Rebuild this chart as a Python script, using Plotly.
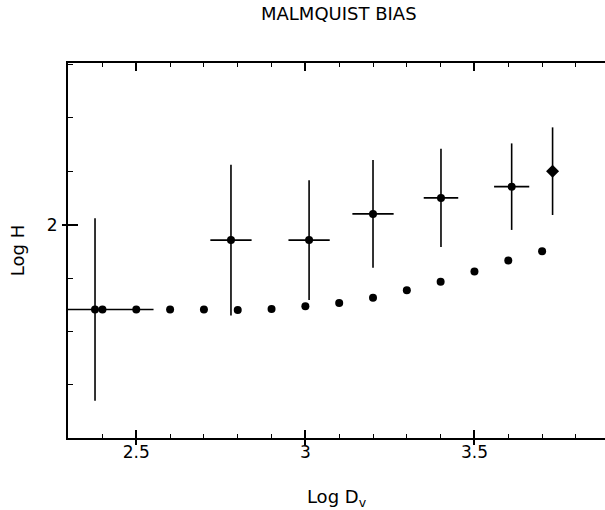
import plotly.graph_objects as go

# Model (expected bias) dots
model_x = [2.4, 2.5, 2.6, 2.7, 2.8, 2.9, 3.0, 3.1, 3.2, 3.3, 3.4, 3.5, 3.6, 3.7]
model_y = [1.841, 1.841, 1.841, 1.841, 1.840, 1.842, 1.847, 1.853, 1.863, 1.877, 1.893, 1.912, 1.933, 1.950]

# Observed points with error bars
obs_x = [2.378, 2.780, 3.011, 3.200, 3.401, 3.610]
obs_y = [1.841, 1.971, 1.971, 2.020, 2.050, 2.071]
obs_ey = [0.171, 0.141, 0.112, 0.101, 0.092, 0.081]
obs_ex = [0.173, 0.061, 0.061, 0.061, 0.051, 0.052]

# Last point (diamond, no horizontal bar)
dia_x = [3.731]
dia_y = [2.100]
dia_ey = [0.082]

x_range = [2.2981, 3.886]
y_range = [1.6005, 2.3025]
x_major = [2.5, 3.0, 3.5]
x_labels = ["2.5", "3", "3.5"]
y_major = [2.0]
y_labels = ["2"]

FONT = "DejaVu Sans"

fig = go.Figure()
fig.add_trace(go.Scatter(
    x=model_x, y=model_y, mode="markers",
    marker=dict(color="black", size=8), showlegend=False))
fig.add_trace(go.Scatter(
    x=obs_x, y=obs_y, mode="markers",
    marker=dict(color="black", size=8),
    error_y=dict(type="data", array=obs_ey, color="black", thickness=1.6, width=0),
    error_x=dict(type="data", array=obs_ex, color="black", thickness=1.6, width=0),
    showlegend=False))
fig.add_trace(go.Scatter(
    x=dia_x, y=dia_y, mode="markers",
    marker=dict(color="black", size=10, symbol="diamond"),
    error_y=dict(type="data", array=dia_ey, color="black", thickness=1.6, width=0),
    showlegend=False))
# invisible trace to activate overlay axes
fig.add_trace(go.Scatter(x=[None], y=[None], xaxis="x2", yaxis="y2", showlegend=False))

fig.update_layout(
    width=605, height=510,
    margin=dict(l=68, r=0, t=63, b=72),
    paper_bgcolor="white", plot_bgcolor="white",
    font=dict(family=FONT, color="black", size=17),
    title=dict(text="MALMQUIST BIAS", x=0.560, xanchor="center", y=0.9725, yanchor="middle",
               font=dict(family=FONT, size=18, color="black")),
    xaxis=dict(
        range=x_range, showgrid=False, zeroline=False,
        showline=True, linecolor="black", linewidth=1.8, mirror="allticks",
        tickmode="array", tickvals=x_major, ticktext=x_labels,
        ticks="inside", ticklen=8, tickwidth=1.5, tickcolor="black",
        ticklabelstandoff=-2,
        minor=dict(dtick=0.1, tick0=2.0, ticks="inside", ticklen=4, tickwidth=1.2,
                   tickcolor="black", showgrid=False),
        title=dict(text="Log D<sub>v</sub>", standoff=36, font=dict(size=18)),
        automargin=False,
    ),
    yaxis=dict(
        range=y_range, showgrid=False, zeroline=False,
        showline=True, linecolor="black", linewidth=1.8, mirror=False,
        tickmode="array", tickvals=y_major, ticktext=y_labels,
        ticks="inside", ticklen=10, tickwidth=1.5, tickcolor="black",
        ticklabelstandoff=5,
        minor=dict(dtick=0.1, tick0=1.5, ticks="inside", ticklen=5, tickwidth=1.2,
                   tickcolor="black", showgrid=False),
        title=dict(text="Log H", standoff=18, font=dict(size=18)),
        automargin=False,
    ),
    xaxis2=dict(
        range=x_range, overlaying="x", side="bottom", showgrid=False, zeroline=False,
        showline=False, tickmode="array", tickvals=x_major, showticklabels=False,
        ticks="outside", ticklen=6, tickwidth=1.5, tickcolor="black", automargin=False,
    ),
    yaxis2=dict(
        range=y_range, overlaying="y", side="left", showgrid=False, zeroline=False,
        showline=False, tickmode="array", tickvals=y_major, showticklabels=False,
        ticks="outside", ticklen=5, tickwidth=1.5, tickcolor="black", automargin=False,
    ),
)

fig.write_html(
    "out.html",
    config={"displayModeBar": False},
    post_script="document.body.style.margin='0';document.body.style.overflow='hidden';",
)
